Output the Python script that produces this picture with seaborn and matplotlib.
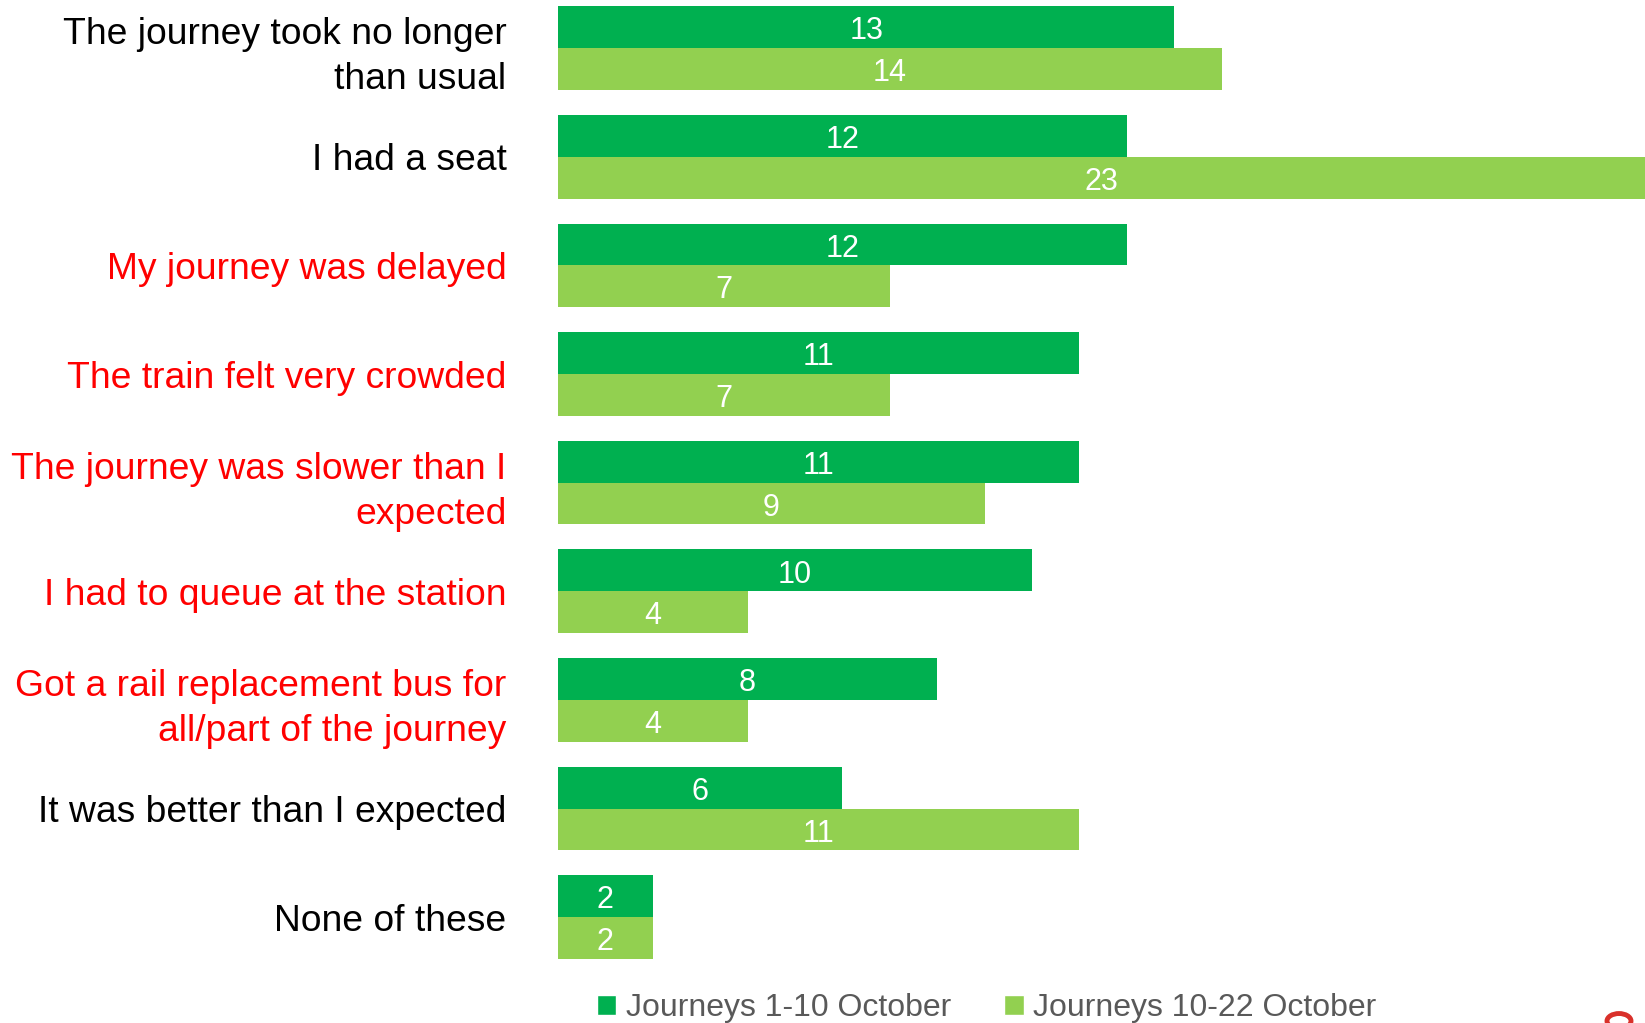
import matplotlib
matplotlib.use("Agg")
import matplotlib.pyplot as plt
import seaborn as sns
import pandas as pd
from matplotlib.patches import Circle, Patch

categories = [
    "The journey took no longer\nthan usual",
    "I had a seat",
    "My journey was delayed",
    "The train felt very crowded",
    "The journey was slower than I\nexpected",
    "I had to queue at the station",
    "Got a rail replacement bus for\nall/part of the journey",
    "It was better than I expected",
    "None of these",
]
label_colors = ["black", "black", "red", "red", "red", "red", "red", "black", "black"]
series_names = ["Journeys 1-10 October", "Journeys 10-22 October"]
values_early = [13, 12, 12, 11, 11, 10, 8, 6, 2]
values_late = [14, 23, 7, 7, 9, 4, 4, 11, 2]
colors = ["#00B050", "#92D050"]

df = pd.DataFrame({
    "category": categories * 2,
    "series": [series_names[0]] * len(categories) + [series_names[1]] * len(categories),
    "value": values_early + values_late,
})

sns.set_theme(style="white")
plt.rcParams["font.family"] = ["Liberation Sans", "DejaVu Sans"]

fig = plt.figure(figsize=(16.45, 10.23), dpi=100)
ax = fig.add_axes([558 / 1645, 0.0504, 1 - 558 / 1645, 0.9556])

sns.barplot(data=df, y="category", x="value", hue="series", orient="h",
            palette=colors, width=0.77, saturation=1, ax=ax, legend=False,
            linewidth=0)

for c in ax.containers:
    texts = ax.bar_label(c, label_type="center", color="white", fontsize=22)
    for t in texts:
        t.xyann = (0, -3)

ax.set_xlim(0, 22.93)
ax.set_ylim(8.5, -0.5)
ax.set_xlabel("")
ax.set_ylabel("")
ax.set_xticks([])
sns.despine(ax=ax, left=True, bottom=True)
ax.tick_params(axis="y", length=0, pad=37)
ax.set_yticks(range(len(categories)))
ax.set_yticklabels(categories, fontsize=26.8, linespacing=1.37)
for lab, col in zip(ax.get_yticklabels(), label_colors):
    lab.set_color(col)
    lab.set_horizontalalignment("right")

handles = [Patch(facecolor=colors[0]), Patch(facecolor=colors[1])]
leg = fig.legend(handles, series_names, loc="center left",
                 bbox_to_anchor=(597 / 1645, 1 - 1008 / 1023), ncol=2, frameon=False,
                 fontsize=23, handlelength=0.6, handleheight=0.6, handletextpad=0.3,
                 columnspacing=1.67, borderaxespad=0, borderpad=0)
for t in leg.get_texts():
    t.set_color("#595959")

fig.patches.append(Circle((1619 / 1645, 1 - 1021 / 1023), 0.0073, transform=fig.transFigure,
                          fill=False, edgecolor="#D9302A", linewidth=3.5))

fig.savefig("out.png", dpi=100)
